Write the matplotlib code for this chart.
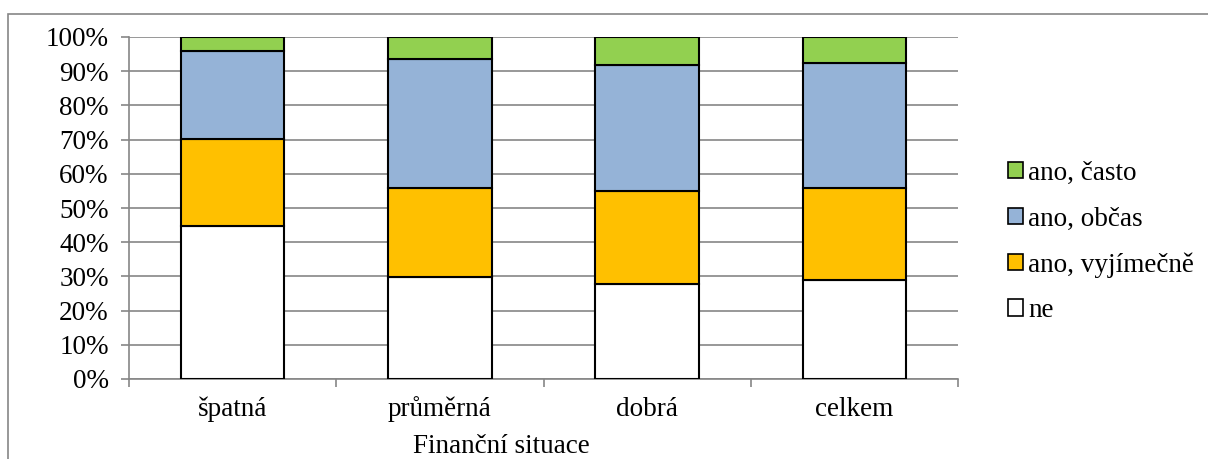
import matplotlib.pyplot as plt
import numpy as np
from matplotlib.patches import Rectangle

plt.rcParams['font.family'] = ['Liberation Serif', 'DejaVu Serif']

categories = ["špatná", "průměrná", "dobrá", "celkem"]
series_names = ["ne", "ano, vyjímečně", "ano, občas", "ano, často"]
ne = [44.8, 29.7, 27.9, 29.0]
vyjimecne = [25.4, 26.2, 27.1, 26.9]
obcas = [25.6, 37.8, 36.7, 36.5]
casto = [4.2, 6.3, 8.3, 7.6]
colors = ["#FFFFFF", "#FFC000", "#95B3D7", "#92D050"]

FS = 19.5
W, H = 1208, 459

fig = plt.figure(figsize=(W / 100, H / 100), dpi=100)
# outer chart frame (runs off the right and bottom edges)
fig.patches.append(Rectangle((8 / W, -0.01), 1.0, 1 - 14 / H + 0.01,
                             transform=fig.transFigure, fill=False,
                             edgecolor="#868686", linewidth=1.2))
ax = fig.add_axes([129 / W, 1 - 379 / H, 829 / W, 342 / H])

x = np.arange(len(categories))
bottom = np.zeros(len(categories))
handles = []
for name, vals, col in zip(series_names, [ne, vyjimecne, obcas, casto], colors):
    vals = np.array(vals)
    b = ax.bar(x, vals, 0.5, bottom=bottom, color=col, edgecolor="black",
               linewidth=1.5, label=name, zorder=3)
    handles.append(b)
    bottom += vals

ax.set_xlim(-0.5, len(categories) - 0.5)
ax.set_ylim(0, 100)
ax.set_yticks(np.arange(0, 101, 10))
ax.set_yticklabels([f"{v}%" for v in range(0, 101, 10)], fontsize=FS)
ax.yaxis.grid(True, color="#868686", linewidth=1.2, zorder=0)
ax.set_xticks(x)
ax.set_xticklabels(categories, fontsize=FS)
for lab in ax.get_xticklabels():
    lab.set_va("baseline")
ax.set_xticks(np.arange(-0.5, len(categories)), minor=True)
ax.tick_params(axis="x", which="major", length=0, pad=26.5)
ax.tick_params(axis="x", which="minor", length=6, color="#868686", width=1.2)
ax.tick_params(axis="y", length=6, color="#868686", width=1.2, pad=8.5)
fig.text(501 / W, (H - 453) / H, "Finanční situace", fontsize=FS,
         ha="center", va="baseline")

for s in ["top", "right"]:
    ax.spines[s].set_visible(False)
for s in ["left", "bottom"]:
    ax.spines[s].set_color("#868686")
    ax.spines[s].set_linewidth(1.2)

leg = fig.legend(handles[::-1], series_names[::-1], loc="center left",
                 bbox_to_anchor=(984 / W, 1 - 242 / H), frameon=False,
                 fontsize=FS, handlelength=0.55, handleheight=0.55,
                 handletextpad=0.18, labelspacing=0.76)
for p in leg.get_patches():
    p.set_linewidth(1.2)

fig.savefig("out.png", dpi=100)
